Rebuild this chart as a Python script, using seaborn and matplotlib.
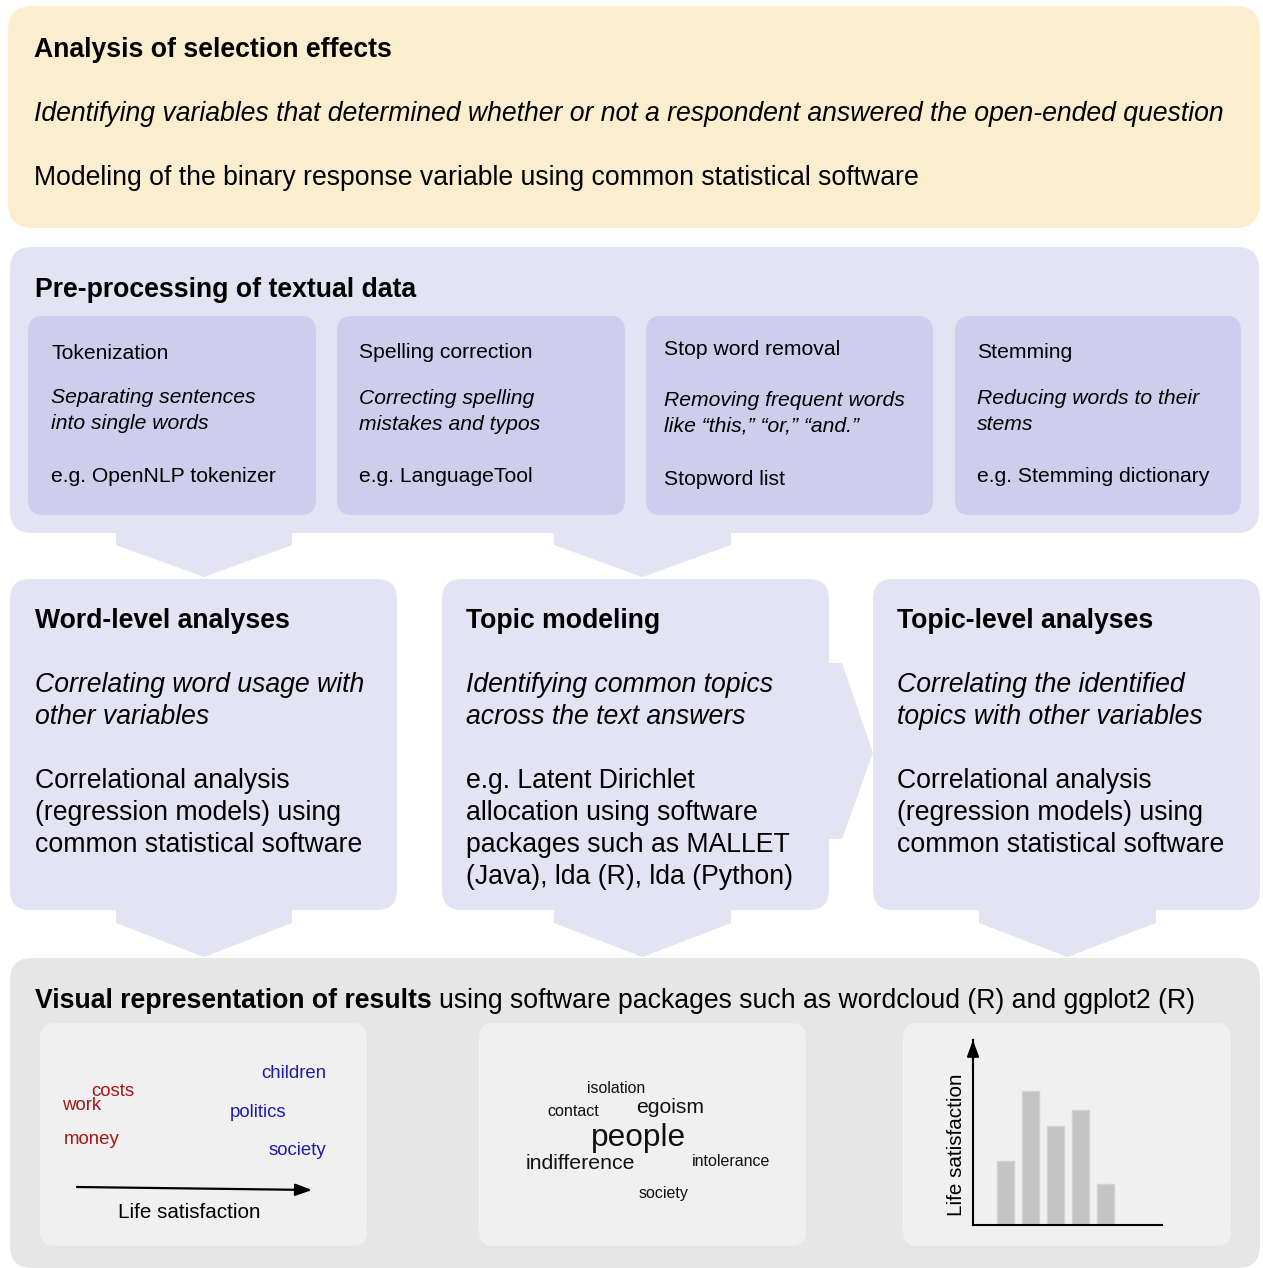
import matplotlib
matplotlib.use("Agg")
import matplotlib.pyplot as plt
from matplotlib.patches import FancyBboxPatch, Polygon
import seaborn as sns

# ---------------- data ----------------
top_title = "Analysis of selection effects"
top_desc = "Identifying variables that determined whether or not a respondent answered the open-ended question"
top_method = "Modeling of the binary response variable using common statistical software"

pre_title = "Pre-processing of textual data"
step_names = ["Tokenization", "Spelling correction", "Stop word removal", "Stemming"]
step_descs = [["Separating sentences", "into single words"],
              ["Correcting spelling", "mistakes and typos"],
              ["Removing frequent words", "like \u201cthis,\u201d \u201cor,\u201d \u201cand.\u201d"],
              ["Reducing words to their", "stems"]]
step_tools = ["e.g. OpenNLP tokenizer", "e.g. LanguageTool", "Stopword list", "e.g. Stemming dictionary"]

analysis_titles = ["Word-level analyses", "Topic modeling", "Topic-level analyses"]
analysis_descs = [["Correlating word usage with", "other variables"],
                  ["Identifying common topics", "across the text answers"],
                  ["Correlating the identified", "topics with other variables"]]
analysis_methods = [["Correlational analysis", "(regression models) using", "common statistical software"],
                    ["e.g. Latent Dirichlet", "allocation using software", "packages such as MALLET",
                     "(Java), lda (R), lda (Python)"],
                    ["Correlational analysis", "(regression models) using", "common statistical software"]]

vis_title_bold = "Visual representation of results"
vis_title_rest = "using software packages such as wordcloud (R) and ggplot2 (R)"

neg_words = ["costs", "work", "money"]
pos_words = ["children", "politics", "society"]
axis_label = "Life satisfaction"

cloud_words = ["isolation", "contact", "egoism", "people", "indifference", "intolerance", "society"]
cloud_freq = [11.4, 11.6, 15.2, 22.8, 15.3, 11.5, 11.5]

bar_groups = ["1", "2", "3", "4", "5"]
bar_values = [3.2, 6.7, 4.95, 5.75, 2.05]

# ---------------- style ----------------
sns.set_theme(style="white")
plt.rcParams["font.family"] = ["Liberation Sans", "DejaVu Sans"]

C_TOP = "#FBEECF"
C_LAV = "#E4E3F4"
C_SUB = "#CFCDEC"
C_GRAY = "#E6E6E6"
C_PANEL = "#F0F0F0"
C_RED = "#A81616"
C_BLUE = "#1C1CA8"

BIG = 19.2
SMALL = 15.2

W, H = 1263, 1268
fig = plt.figure(figsize=(W / 100, H / 100), dpi=100)
fig.patch.set_facecolor("white")
ax = fig.add_axes([0, 0, 1, 1])
ax.set_xlim(0, W)
ax.set_ylim(H, 0)
ax.axis("off")


def rbox(x0, y0, x1, y1, r, color, z=1):
    ax.add_patch(FancyBboxPatch((x0, y0), x1 - x0, y1 - y0,
                                boxstyle=f"round,pad=0,rounding_size={r}",
                                fc=color, ec="none", zorder=z))


def txt(x, y, s, size, weight="normal", style="normal", color="black", **kw):
    return ax.text(x, y, s, fontsize=size, fontweight=weight, fontstyle=style,
                   color=color, va="baseline", ha="left", zorder=6, **kw)


def chevron(x0, x1, ytop, yside, ytip, color, z=1):
    xm = (x0 + x1) / 2
    ax.add_patch(Polygon([(x0, ytop), (x1, ytop), (x1, yside), (xm, ytip), (x0, yside)],
                         closed=True, fc=color, ec="none", zorder=z))


# ---------------- top box ----------------
rbox(8, 6, 1260, 228, 25, C_TOP)
txt(34, 57, top_title, BIG, weight="bold")
txt(34, 121, top_desc, BIG, style="italic")
txt(34, 185, top_method, BIG)

# ---------------- pre-processing ----------------
rbox(10, 247, 1259, 533, 22, C_LAV)
txt(35, 297, pre_title, BIG, weight="bold")
sub_x = [(28, 316), (337, 625), (646, 933), (955, 1241)]
text_x = [51, 359, 664, 977]
name_y = [359, 358, 355, 358]
desc_y = [(403, 429), (404, 430), (406, 432), (404, 430)]
tool_y = [482, 482, 485, 482]
for i in range(4):
    rbox(sub_x[i][0], 316, sub_x[i][1], 515, 15, C_SUB, z=2)
    txt(text_x[i], name_y[i], step_names[i], SMALL)
    for line, yy in zip(step_descs[i], desc_y[i]):
        txt(text_x[i], yy, line, SMALL, style="italic")
    txt(text_x[i], tool_y[i], step_tools[i], SMALL)

chevron(116, 292, 530, 545, 577, C_LAV)
chevron(554, 731, 530, 545, 577, C_LAV)

# ---------------- analyses ----------------
mid_x = [(10, 397), (442, 829), (873, 1260)]
mid_tx = [35, 466, 897]
for i in range(3):
    rbox(mid_x[i][0], 579, mid_x[i][1], 910, 20, C_LAV)
    txt(mid_tx[i], 628, analysis_titles[i], BIG, weight="bold")
    for j, line in enumerate(analysis_descs[i]):
        txt(mid_tx[i], 692 + 32 * j, line, BIG, style="italic")
    for j, line in enumerate(analysis_methods[i]):
        txt(mid_tx[i], 788 + 32 * j, line, BIG)

ax.add_patch(Polygon([(822, 663), (842, 663), (873, 753), (842, 839), (822, 839)],
                     closed=True, fc=C_LAV, ec="none", zorder=1))

chevron(116, 292, 905, 923, 957, C_LAV)
chevron(554, 731, 905, 923, 957, C_LAV)
chevron(979, 1156, 905, 923, 957, C_LAV)

# ---------------- visual representation ----------------
rbox(10, 958, 1260, 1268, 22, C_GRAY)
tb = txt(35, 1008, vis_title_bold, BIG, weight="bold")
fig.canvas.draw()
bb = tb.get_window_extent()
x_end = ax.transData.inverted().transform((bb.x1, bb.y0))[0]
txt(x_end + 7.4, 1008, vis_title_rest, BIG)

for (x0, x1) in [(40, 367), (479, 806), (903, 1231)]:
    rbox(x0, 1023, x1, 1246, 15, C_PANEL, z=2)

# panel 1: words along life satisfaction
neg_pos = [(91, 1096), (62, 1110), (64, 1144)]
pos_pos = [(261, 1078), (230, 1117), (269, 1155)]
for w, (x, y) in zip(neg_words, neg_pos):
    txt(x, y, w, 13.4, color=C_RED)
for w, (x, y) in zip(pos_words, pos_pos):
    txt(x, y, w, 13.4, color=C_BLUE)
ax.annotate("", xy=(312, 1190), xytext=(77, 1187),
            arrowprops=dict(arrowstyle="-|>,head_length=0.55,head_width=0.2",
                            lw=1.6, color="black", mutation_scale=18,
                            shrinkA=0, shrinkB=0), zorder=6)
txt(118, 1218, axis_label, 14.9)

# panel 2: word cloud
cloud_pos = [(587, 1093), (547, 1116), (636, 1113), (591, 1146), (526, 1169), (692, 1166), (639, 1198)]
for w, f, (x, y) in zip(cloud_words, cloud_freq, cloud_pos):
    txt(x, y, w, f, color="#111111")

# panel 3: bar chart
ax.text(962, 1145, axis_label, fontsize=14.9, rotation=90, rotation_mode="anchor",
        ha="center", va="baseline", color="black", zorder=6)

bax = fig.add_axes([973 / W, 1 - 1225 / H, (1162 - 973) / W, (1225 - 1040) / H])
bax.set_facecolor("none")
sns.barplot(x=bar_groups, y=bar_values, color="#C4C4C4", saturation=1, width=0.68,
            edgecolor="#D2D2D2", linewidth=1, ax=bax)
bax.set_xlim(-1.3, 6.26)
bax.set_ylim(0, 9.25)
for s in ["top", "right"]:
    bax.spines[s].set_visible(False)
for s in ["left", "bottom"]:
    bax.spines[s].set_color("black")
    bax.spines[s].set_linewidth(1.5)
    bax.spines[s].set_zorder(5)
bax.set_xticks([])
bax.set_yticks([])
bax.set_xlabel("")
bax.set_ylabel("")
bax.annotate("", xy=(0, 1.0), xytext=(0, 0.85), xycoords="axes fraction",
             arrowprops=dict(arrowstyle="-|>,head_length=0.55,head_width=0.2",
                             lw=1.5, color="black", mutation_scale=18,
                             shrinkA=0, shrinkB=0), annotation_clip=False)

fig.savefig("out.png", dpi=100, facecolor="white")
